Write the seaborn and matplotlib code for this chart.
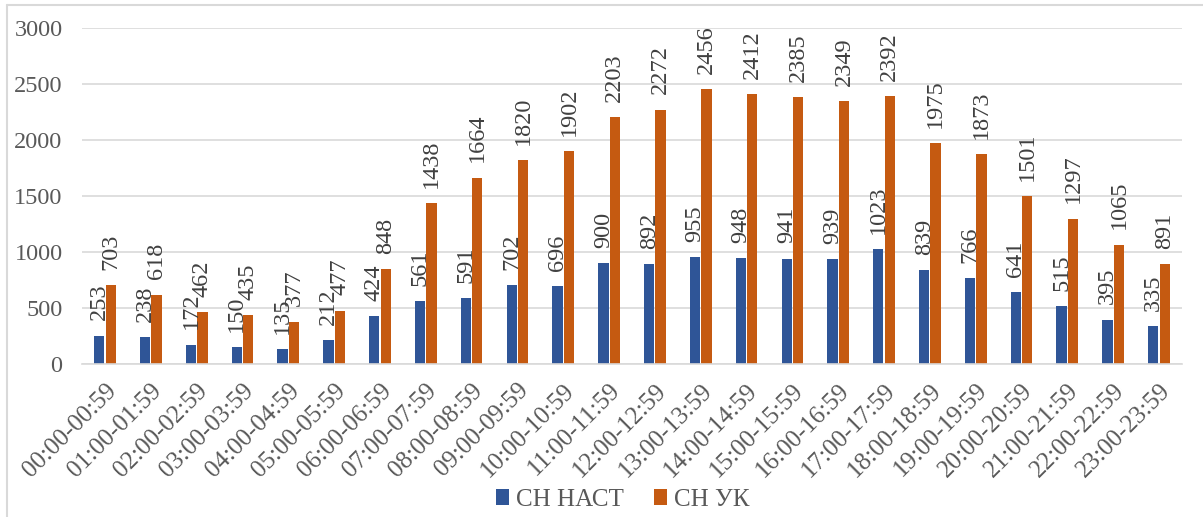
import pandas as pd
import seaborn as sns
import matplotlib.pyplot as plt
from matplotlib.lines import Line2D

# Data
hours = ['00:00-00:59', '01:00-01:59', '02:00-02:59', '03:00-03:59', '04:00-04:59',
         '05:00-05:59', '06:00-06:59', '07:00-07:59', '08:00-08:59', '09:00-09:59',
         '10:00-10:59', '11:00-11:59', '12:00-12:59', '13:00-13:59', '14:00-14:59',
         '15:00-15:59', '16:00-16:59', '17:00-17:59', '18:00-18:59', '19:00-19:59',
         '20:00-20:59', '21:00-21:59', '22:00-22:59', '23:00-23:59']
sn_nast = [253, 238, 172, 150, 135, 212, 424, 561, 591, 702, 696, 900,
           892, 955, 948, 941, 939, 1023, 839, 766, 641, 515, 395, 335]
sn_uk = [703, 618, 462, 435, 377, 477, 848, 1438, 1664, 1820, 1902, 2203,
         2272, 2456, 2412, 2385, 2349, 2392, 1975, 1873, 1501, 1297, 1065, 891]
series_names = ['СН НАСТ', 'СН УК']
colors = ['#2F5597', '#C55A11']

df = pd.DataFrame({
    'hour': hours * 2,
    'value': sn_nast + sn_uk,
    'series': [series_names[0]] * len(hours) + [series_names[1]] * len(hours),
})

sns.set_style('white')
plt.rcParams['font.family'] = ['Liberation Serif', 'DejaVu Serif']

fig = plt.figure(figsize=(12.03, 5.17), dpi=100)
ax = fig.add_axes([0.0682, 0.296, 0.9143, 0.6498])

sns.barplot(data=df, x='hour', y='value', hue='series', palette=colors,
            width=0.5, gap=0.1, linewidth=0, saturation=1, ax=ax)

for container in ax.containers:
    ax.bar_label(container, rotation=90, padding=11, fontsize=17.5, color='#404040')

ax.set_ylim(0, 3000)
ax.set_yticks(range(0, 3001, 500))
ax.set_xlim(-0.5, len(hours) - 0.5)
ax.yaxis.grid(True, color='#D9D9D9', linewidth=1.2)
ax.set_axisbelow(True)
for side in ['top', 'right', 'left']:
    ax.spines[side].set_visible(False)
ax.spines['bottom'].set_color('#D9D9D9')
ax.spines['bottom'].set_linewidth(1.2)

ax.set_xlabel('')
ax.set_ylabel('')
ax.tick_params(axis='y', length=0, pad=14, labelsize=17.5, labelcolor='#595959')
ax.tick_params(axis='x', length=0, pad=11, labelsize=18, labelcolor='#595959')
plt.setp(ax.get_xticklabels(), rotation=45, ha='right', va='top', rotation_mode='anchor')

handles, labels = ax.get_legend_handles_labels()
ax.legend(handles, labels, loc='center', bbox_to_anchor=(0.518, 0.033),
          bbox_transform=fig.transFigure, ncol=2, frameon=False, fontsize=18,
          labelcolor='#595959', handlelength=0.5, handleheight=0.6,
          handletextpad=0.3, columnspacing=1.2)

# Light border around the chart area
fig.add_artist(Line2D([7 / 1203, 1.0], [1 - 5 / 517, 1 - 5 / 517],
                      transform=fig.transFigure, color='#D9D9D9', linewidth=1.5))
fig.add_artist(Line2D([7 / 1203, 7 / 1203], [0.0, 1 - 5 / 517],
                      transform=fig.transFigure, color='#D9D9D9', linewidth=1.5))

fig.savefig('out.png', dpi=100)
